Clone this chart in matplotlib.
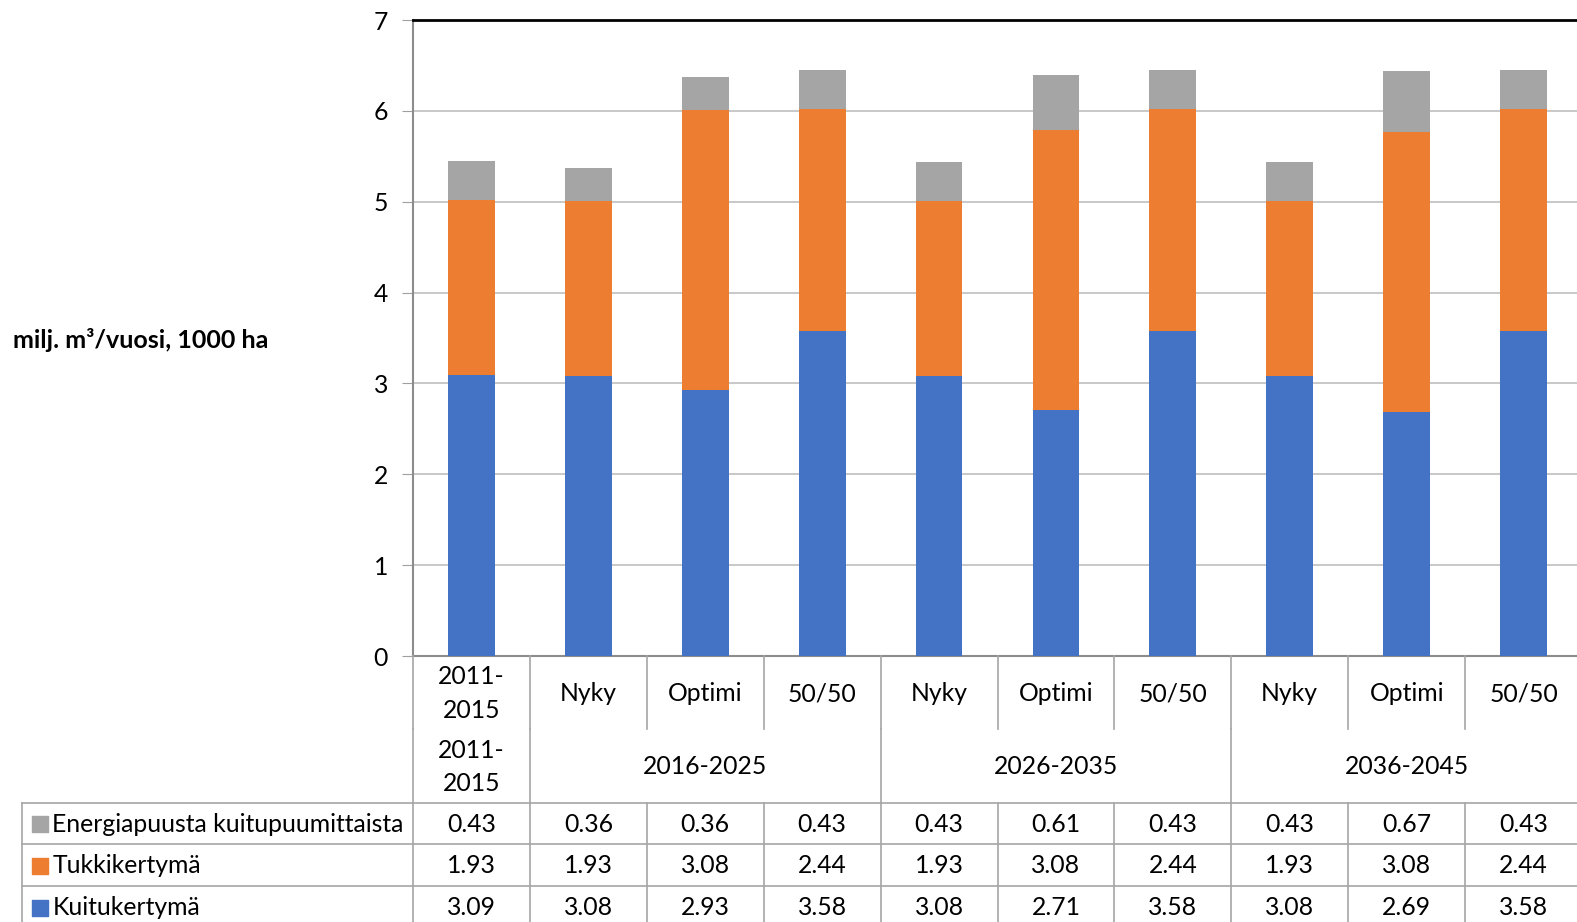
import matplotlib.pyplot as plt
import numpy as np

plt.rcParams['font.family'] = ['Lato', 'DejaVu Sans']

# hakkuukertymät skenaarioittain
scenarios = ['2011-\n2015', 'Nyky', 'Optimi', '50/50', 'Nyky', 'Optimi', '50/50', 'Nyky', 'Optimi', '50/50']
periods = ['2011-\n2015', '2016-2025', '2026-2035', '2036-2045']
period_cols = [(0, 0), (1, 3), (4, 6), (7, 9)]
kuitu = [3.09, 3.08, 2.93, 3.58, 3.08, 2.71, 3.58, 3.08, 2.69, 3.58]
tukki = [1.93, 1.93, 3.08, 2.44, 1.93, 3.08, 2.44, 1.93, 3.08, 2.44]
energia = [0.43, 0.36, 0.36, 0.43, 0.43, 0.61, 0.43, 0.43, 0.67, 0.43]

names = ['Energiapuusta kuitupuumittaista', 'Tukkikertymä', 'Kuitukertymä']
colors = ['#A5A5A5', '#ED7D31', '#4472C4']
rows = [energia, tukki, kuitu]

W, H = 1577, 922
fs = 17.8
x0_px, x1_px = 413, 1582
y0_px, y7_px = 656, 20
fig = plt.figure(figsize=(W / 100, H / 100), dpi=100)
left, right = x0_px / W, x1_px / W
ax = fig.add_axes([left, 1 - y0_px / H, right - left, (y0_px - y7_px) / H])

x = np.arange(len(scenarios))
bw = 0.4
ax.bar(x, kuitu, bw, color=colors[2], zorder=3)
ax.bar(x, tukki, bw, bottom=kuitu, color=colors[1], zorder=3)
ax.bar(x, energia, bw, bottom=np.add(kuitu, tukki), color=colors[0], zorder=3)

ax.set_xlim(-0.5, len(scenarios) - 0.5)
ax.set_ylim(0, 7)
ax.set_yticks(range(8))
ax.set_xticks([])
ax.tick_params(axis='y', labelsize=fs, length=8, color='#A0A0A0', pad=10)
ax.grid(axis='y', color='#BFBFBF', linewidth=1.2, zorder=0)
ax.spines['right'].set_visible(False)
ax.spines['top'].set_color('black')
ax.spines['top'].set_linewidth(2)
ax.spines['left'].set_color('#8C8C8C')
ax.spines['left'].set_linewidth(1.5)
ax.spines['bottom'].set_color('#8C8C8C')
ax.spines['bottom'].set_linewidth(1.5)

fig.text(13 / W, 1 - 340 / H, 'milj. m³/vuosi, 1000 ha', fontsize=18,
         fontweight='bold', ha='left', va='center')

# datataulukko akselin alle
tab_h = H - y0_px
tab = fig.add_axes([left, 0, right - left, tab_h / H])
tab.set_xlim(-0.5, len(scenarios) - 0.5)
tab.set_ylim(tab_h, 0)
tab.axis('off')
lc = '#A6A6A6'
col_px = (x1_px - x0_px) / len(scenarios)
x_left = -0.5 - (x0_px - 22) / col_px
x_right = len(scenarios) - 0.5
r1, r2 = 73, 146.5
row_edges = [r2, 187.8, 229.9, 272]

# skenaariorivi
for i, lab in enumerate(scenarios):
    tab.text(i, r1 / 2 + 1, lab, ha='center', va='center', fontsize=fs, linespacing=1.55)
for i in range(len(scenarios) + 1):
    b = i - 0.5
    tab.plot([b, b], [0, r1], color=lc, lw=1.2, clip_on=False)

# jaksorivi
for lab, (a, b) in zip(periods, period_cols):
    tab.text((a + b) / 2, (r1 + r2) / 2 + 1, lab, ha='center', va='center',
             fontsize=fs, linespacing=1.55)
    tab.plot([a - 0.5, a - 0.5], [r1, r2], color=lc, lw=1.2, clip_on=False)

# arvorivit
for k, (name, col, vals) in enumerate(zip(names, colors, rows)):
    ya, yb = row_edges[k], row_edges[k + 1]
    yc = (ya + yb) / 2 + 1
    for i, v in enumerate(vals):
        tab.text(i, yc, f'{v:.2f}', ha='center', va='center', fontsize=fs)
    tab.text(x_left + 0.26, yc, name, ha='left', va='center', fontsize=fs, clip_on=False)
    tab.scatter([x_left + 0.155], [yc], marker='s', s=130, color=col, clip_on=False)
for y in row_edges:
    tab.plot([x_left, x_right], [y, y], color=lc, lw=1.2, clip_on=False)
for i in range(len(scenarios)):
    b = i - 0.5
    tab.plot([b, b], [row_edges[0], row_edges[-1]], color=lc, lw=1.2, clip_on=False)
tab.plot([x_left, x_left], [row_edges[0], row_edges[-1]], color=lc, lw=1.2, clip_on=False)

fig.savefig('out.png', dpi=100)
